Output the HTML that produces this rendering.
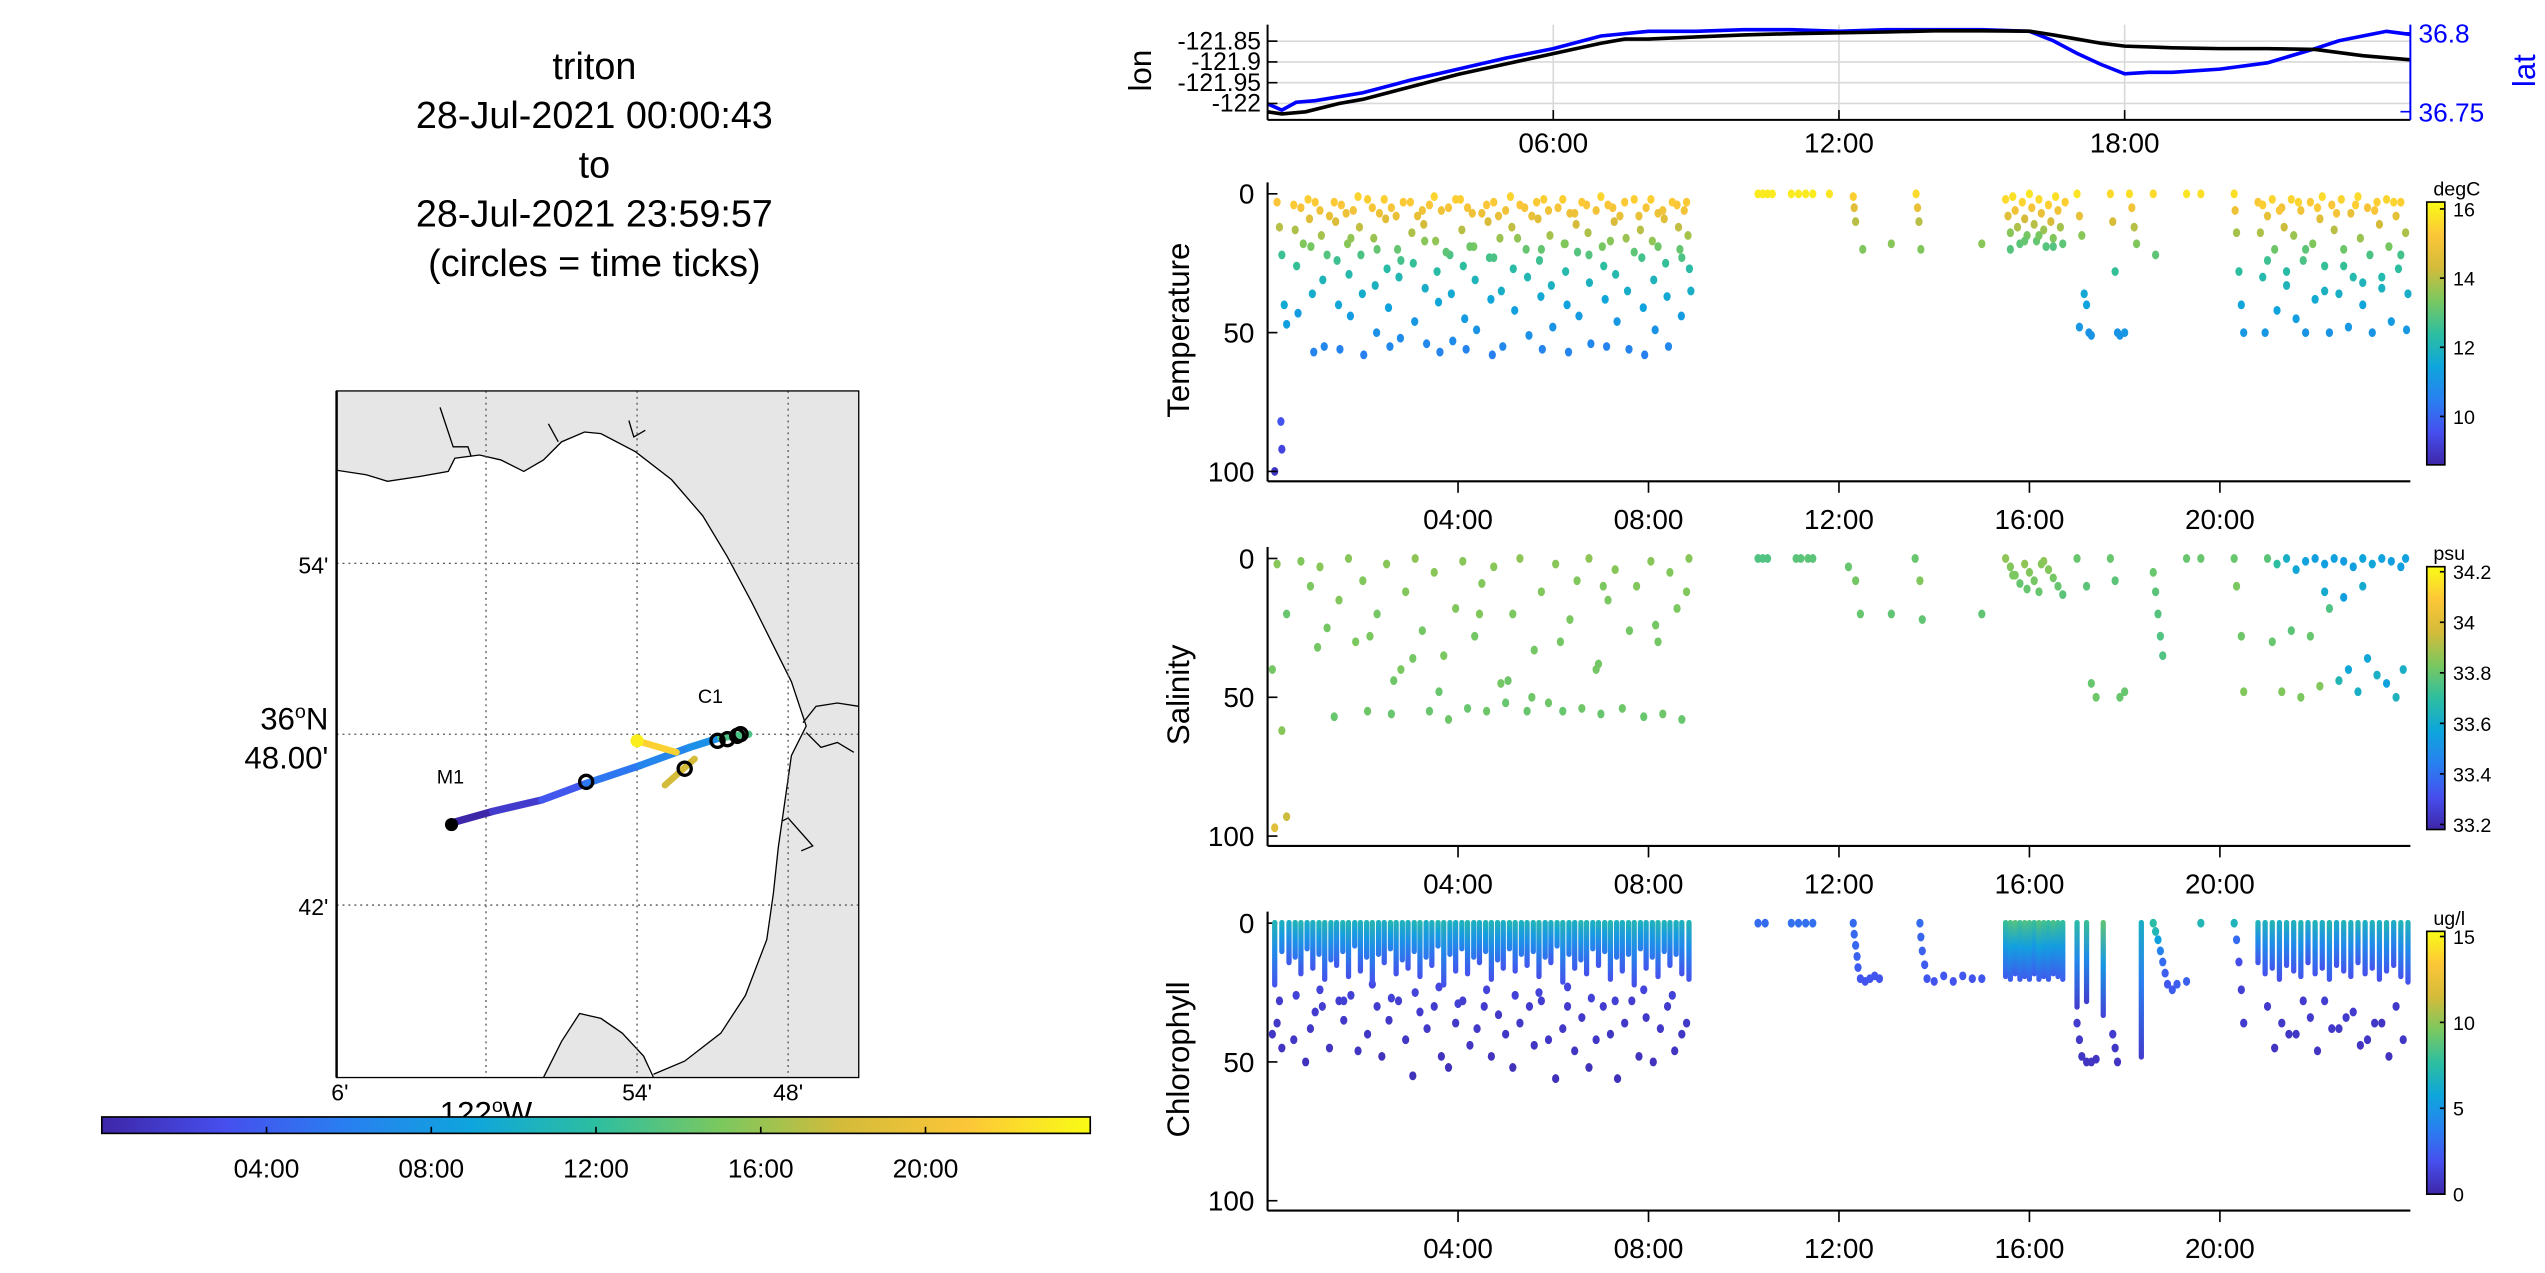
<!DOCTYPE html>
<html><head><meta charset="utf-8"><style>
html,body{margin:0;padding:0;background:#fff;}
svg{display:block;font-family:"Liberation Sans",Arial,sans-serif;}
</style></head><body>
<svg id="fig" width="2545" height="1273" viewBox="0 0 1550 775" preserveAspectRatio="none" xmlns="http://www.w3.org/2000/svg">
<rect width="1550" height="775" fill="#fff"/>
<g font-size="23" text-anchor="middle" fill="#000">
<text x="362" y="48">triton</text>
<text x="362" y="78">28-Jul-2021 00:00:43</text>
<text x="362" y="108">to</text>
<text x="362" y="138">28-Jul-2021 23:59:57</text>
<text x="362" y="168">(circles = time ticks)</text>
</g>
<g id="map"></g>
<g id="cbar"></g>
<g id="top"></g>
<g id="ptemp"></g>
<g id="psal"></g>
<g id="pchl"></g>
</svg>
<script>
// ---------- data ----------
const lonT=[0,0.3,0.8,1.5,2,3,4,5,6,7,7.5,8,9,10,11,12,13,14,15,16,16.5,17,17.5,18,19,20,21,22,23,24];
const lonV=[-122.02,-122.025,-122.02,-122.0,-121.99,-121.96,-121.93,-121.905,-121.88,-121.855,-121.845,-121.845,-121.84,-121.835,-121.832,-121.83,-121.828,-121.825,-121.825,-121.826,-121.835,-121.845,-121.855,-121.862,-121.866,-121.868,-121.868,-121.87,-121.885,-121.895];
const latT=[0,0.3,0.6,1,2,3,4,5,6,7,8,9,10,11,12,13,14,15,16,16.5,17,17.5,18,18.5,19,20,21,22,22.5,23,23.5,24];
const latV=[36.755,36.751,36.756,36.757,36.762,36.77,36.777,36.784,36.79,36.798,36.801,36.801,36.802,36.802,36.801,36.802,36.802,36.802,36.801,36.795,36.787,36.78,36.774,36.775,36.775,36.777,36.781,36.79,36.795,36.798,36.801,36.799];
const lonTicks=[-121.85,-121.9,-121.95,-122];
const lonTickLabels=["-121.85","-121.9","-121.95","-122"];
const latTicks=[36.8,36.75];
const latTickLabels=["36.8","36.75"];
const topTimeTicks=[6,12,18];
const topTimeLabels=["06:00","12:00","18:00"];
const timeTicks=[4,8,12,16,20];
const timeLabels=["04:00","08:00","12:00","16:00","20:00"];

const tempT=[0.2,0.25,0.3,0.35,0.4,0.15,0.3,0.28,
0.55,0.58,0.61,0.64, 0.85,0.88,0.91,0.94,0.97, 1.1,1.13,1.16,1.19, 1.4,1.43,1.46,1.49,1.52, 1.65,1.68,1.71,1.74,
1.9,1.93,1.96,1.99,2.02, 2.2,2.23,2.26,2.29, 2.45,2.48,2.51,2.54,2.57, 2.7,2.73,2.76,2.79, 3.0,3.03,3.06,3.09,
3.25,3.28,3.31,3.34, 3.5,3.53,3.56,3.59,3.62, 3.8,3.83,3.86,3.89, 4.05,4.08,4.11,4.14,4.17, 4.3,4.33,4.36,4.39,
4.6,4.63,4.66,4.69,4.72, 4.85,4.88,4.91,4.94, 5.1,5.13,5.16,5.19, 5.4,5.43,5.46,5.49, 5.65,5.68,5.71,5.74,5.77,
5.9,5.93,5.96,5.99, 6.2,6.23,6.26,6.29,6.32, 6.45,6.48,6.51,6.54, 6.7,6.73,6.76,6.79, 7.0,7.03,7.06,7.09,7.12,
7.25,7.28,7.31,7.34, 7.5,7.53,7.56,7.59, 7.8,7.83,7.86,7.89,7.92, 8.05,8.08,8.11,8.14, 8.3,8.33,8.36,8.39,8.42,
8.6,8.63,8.66,8.69, 8.8,8.83,8.86,8.89,
0.7,1.0,1.3,1.55,1.8,2.1,2.35,2.6,2.85,3.15,3.4,3.65,3.95,4.2,4.5,4.75,5.0,5.3,5.55,5.8,6.1,6.35,6.6,6.9,7.15,7.4,7.7,7.95,8.2,8.5,8.75,
0.75,1.25,1.75,2.3,2.8,3.3,3.75,4.25,4.75,5.25,5.75,6.25,6.75,7.2,7.7,8.2,8.7,
10.3,10.4,10.5,10.6,11.0,11.15,11.3,11.45,11.8,12.3,12.32,12.35,12.5,13.1,13.62,13.65,13.68,13.72,15.0,
15.5,15.55,15.6,15.65,15.7,15.75,15.8,15.85,15.9,15.95,16.0,16.05,16.1,16.15,16.2,16.25,16.3,16.35,16.4,16.45,16.5,16.55,16.6,16.65,16.7,16.75,15.6,15.9,16.2,16.5,
17.0,17.05,17.1,17.15,17.2,17.25,17.3,17.05,17.7,17.75,17.8,17.85,17.9,18.0,18.1,18.15,18.2,18.25,18.6,18.65,19.3,19.6,
20.3,20.32,20.35,20.4,20.45,20.5,
20.8,20.85,20.9,20.95,21.0,21.1,21.15,21.2,21.3,21.35,21.4,21.5,21.55,21.6,21.7,21.75,21.8,21.9,21.95,22.0,22.1,22.15,22.2,22.3,22.35,22.4,22.5,22.55,22.6,22.7,22.75,22.8,22.9,22.95,23.0,23.1,23.15,23.2,23.3,23.35,23.4,23.5,23.55,23.6,23.7,23.75,23.8,23.9,23.92,23.95,
21.0,21.4,21.8,22.2,22.6,23.0,23.4,23.8,20.9,21.25,21.65,22.05,22.45,22.85,23.25,23.65];
const tempZ=[3,12,22,40,47,100,92,82,
4,13,26,43, 2,9,19,36,57, 6,15,31,55, 3,10,24,40,56, 7,18,29,44,
1,12,22,36,58, 5,16,33,50, 2,9,27,41,55, 8,20,30,52, 3,14,25,46,
6,11,34,54, 1,17,28,39,57, 5,22,36,53, 2,13,26,45,56, 7,19,31,49,
4,10,23,38,58, 8,16,35,55, 1,12,27,42, 5,20,30,51, 3,9,24,37,56,
6,15,33,48, 2,18,28,40,57, 7,11,21,44, 4,14,32,54, 1,19,26,38,55,
5,10,29,46, 3,16,35,56, 8,13,23,41,58, 2,17,31,49, 6,9,25,37,55,
4,12,20,44, 3,15,27,35,
5,3,8,4,6,2,7,5,3,8,4,6,2,5,7,3,6,4,8,2,5,7,3,6,4,8,2,5,7,3,6,
18,22,16,20,24,17,21,19,23,16,20,18,22,17,21,19,23,
0,0,0,0,0,0,0,0,0,1,5,10,20,18,0,5,10,20,18,
2,8,14,1,6,12,18,3,9,15,0,5,11,17,2,7,13,19,4,10,16,1,6,12,18,3,20,17,15,19,
0,8,15,36,40,50,51,48,0,10,28,50,51,50,0,5,12,18,0,22,0,0,
0,6,14,28,40,50,
3,14,30,50,8,2,20,42,5,12,33,2,15,45,6,24,50,3,18,38,9,1,26,50,4,13,36,2,20,48,7,30,1,16,40,5,22,50,3,11,34,2,19,46,8,27,3,14,49,36,
24,28,20,35,26,32,30,22,4,6,3,5,7,4,6,3];
const tempV=[15.2,14.0,12.6,11.6,11.3,9.0,9.3,9.6,
15.3,13.9,12.5,11.2, 15.4,14.6,13.3,11.7,10.6, 15.0,13.8,12.0,10.7, 15.3,14.5,12.6,11.5,10.6, 14.9,13.5,12.2,11.2,
15.5,14.1,12.8,11.7,10.5, 15.1,13.7,11.9,10.9, 15.4,14.6,12.3,11.4,10.7, 14.8,13.1,12.1,10.8, 15.3,13.9,12.5,11.1,
15.0,14.3,11.8,10.7, 15.5,13.6,12.3,11.5,10.6, 15.1,12.8,11.6,10.8, 15.4,14.0,12.4,11.2,10.6, 14.9,13.3,12.0,11.0,
15.2,14.4,12.7,11.5,10.5, 14.8,13.7,11.8,10.7, 15.5,14.1,12.3,11.3, 15.1,13.1,12.1,10.9, 15.3,14.6,12.6,11.6,10.6,
15.0,13.8,11.9,11.0, 15.4,13.4,12.2,11.4,10.6, 14.9,14.3,12.9,11.2, 15.2,13.9,11.9,10.7, 15.5,13.3,12.4,11.5,10.6,
15.1,14.4,12.2,11.1, 15.3,13.7,11.8,10.6, 14.8,14.0,12.7,11.4,10.5, 15.4,13.6,12.0,11.0, 15.0,14.6,12.5,11.6,10.7,
15.2,14.1,13.1,11.2, 15.3,13.8,12.3,11.8,
15.1,15.3,14.8,15.2,15.0,15.4,14.9,15.1,15.3,14.8,15.2,15.0,15.4,15.1,14.9,15.3,15.0,15.2,14.8,15.4,15.1,14.9,15.3,15.0,15.2,14.8,15.4,15.1,14.9,15.3,15.0,
13.4,12.9,13.6,13.1,12.7,13.5,13.0,13.2,12.8,13.6,13.1,13.4,12.9,13.5,13.0,13.2,12.8,
15.9,15.9,15.9,15.9,15.9,15.9,15.9,15.9,15.8,15.4,14.6,14.0,13.4,13.5,15.6,14.8,14.0,13.4,13.5,
15.6,14.6,13.5,15.7,15.0,13.9,13.0,15.5,14.3,13.3,15.8,15.1,14.0,13.1,15.6,14.8,13.7,12.9,15.4,14.4,13.4,15.7,15.0,13.8,13.0,15.4,12.9,13.1,13.3,12.9,
15.8,14.8,13.5,11.6,11.4,11.0,11.0,11.1,15.6,14.4,12.5,11.0,11.0,11.1,15.7,15.0,14.0,13.4,15.6,13.0,15.8,15.7,
15.7,14.9,13.8,12.4,11.5,11.1,
15.3,13.9,12.2,11.1,14.7,15.5,13.2,11.4,15.0,14.2,12.0,15.5,13.7,11.3,15.0,12.8,11.0,15.3,13.4,11.6,14.6,15.6,12.5,11.0,15.2,14.0,11.8,15.5,13.2,11.1,14.8,12.2,15.6,13.7,11.5,15.1,12.8,11.0,15.4,14.3,11.9,15.5,13.3,11.2,14.7,12.4,15.4,13.9,11.1,11.8,
12.6,12.3,13.0,11.9,12.5,12.0,12.2,12.7,15.4,15.2,15.5,15.3,15.1,15.4,15.2,15.5];

const salT=[0.1,0.3,0.4,0.15,0.2,0.4,0.7,0.9,1.1,1.25,1.4,1.5,1.7,1.85,2.0,2.1,2.3,2.5,2.6,2.8,2.9,3.1,3.25,3.4,3.5,3.7,3.8,3.95,4.1,4.2,4.35,4.5,4.6,4.75,4.9,5.0,5.15,5.3,5.45,5.6,5.75,5.9,6.05,6.2,6.35,6.5,6.6,6.75,6.9,7.0,7.15,7.3,7.45,7.6,7.75,7.9,8.05,8.2,8.3,8.45,8.6,8.7,8.8,8.85,
1.05,2.15,3.05,4.45,5.05,6.15,7.05,8.15,2.65,3.6,5.55,6.95,
10.3,10.4,10.5,11.1,11.2,11.35,11.45,12.2,12.35,12.45,13.1,13.6,13.7,13.75,15.0,
15.5,15.6,15.7,15.8,15.9,16.0,16.1,16.2,16.3,16.4,16.5,16.6,16.7,15.65,15.95,16.25,
17.0,17.2,17.3,17.4,17.7,17.8,17.9,18.0,18.6,18.65,18.7,18.75,18.8,19.3,19.6,20.3,20.35,20.45,20.5,
21.0,21.2,21.4,21.6,21.8,22.0,22.2,22.4,22.6,22.8,23.0,23.2,23.4,23.6,23.8,23.9,
21.1,21.3,21.5,21.7,21.9,22.1,22.3,22.5,22.7,22.9,23.1,23.3,23.5,23.7,23.85,22.2,22.6,23.0];
const salZ=[40,62,93,97,2,20,1,10,3,25,57,15,0,30,8,55,20,2,56,40,12,0,26,55,5,35,58,18,1,54,28,9,55,3,45,52,20,0,55,33,12,52,2,55,22,8,54,0,40,56,15,4,54,26,10,57,1,30,56,5,18,58,12,0,
32,28,36,20,44,30,10,24,44,48,50,38,
0,0,0,0,0,0,0,3,8,20,20,0,8,22,20,
0,3,6,9,2,5,8,12,1,4,7,10,13,6,11,2,
0,10,45,50,0,8,50,48,5,12,20,28,35,0,0,0,10,28,48,
0,2,0,4,1,0,2,0,1,3,0,2,0,1,3,0,
30,48,26,50,28,46,18,44,40,48,36,42,45,50,40,12,14,10];
const salV=[33.82,33.85,33.95,34.0,33.85,33.8,33.84,33.83,33.85,33.82,33.8,33.84,33.85,33.83,33.84,33.81,33.82,33.85,33.8,33.83,33.84,33.86,33.82,33.8,33.85,33.83,33.81,33.84,33.85,33.8,33.82,33.84,33.81,33.85,33.82,33.8,33.83,33.86,33.8,33.82,33.84,33.81,33.85,33.8,33.83,33.84,33.81,33.86,33.82,33.8,33.83,33.85,33.81,33.82,33.84,33.8,33.85,33.82,33.81,33.84,33.83,33.8,33.84,33.85,
33.82,33.83,33.82,33.84,33.81,33.82,33.83,33.82,33.81,33.8,33.81,33.82,
33.76,33.76,33.76,33.78,33.78,33.78,33.78,33.8,33.82,33.8,33.79,33.8,33.84,33.79,33.79,
33.86,33.84,33.83,33.8,33.86,33.84,33.82,33.8,33.86,33.84,33.82,33.8,33.78,33.83,33.8,33.85,
33.8,33.78,33.8,33.81,33.8,33.78,33.8,33.8,33.8,33.78,33.77,33.76,33.76,33.8,33.8,33.8,33.83,33.81,33.84,
33.78,33.7,33.62,33.58,33.56,33.55,33.55,33.56,33.54,33.55,33.57,33.58,33.56,33.55,33.55,33.56,
33.8,33.84,33.78,33.83,33.8,33.84,33.76,33.66,33.58,33.62,33.58,33.62,33.56,33.64,33.62,33.6,33.55,33.6];

const chlColT=[0.15,0.45,0.7,0.95,1.2,1.45,1.7,1.95,2.2,2.45,2.7,2.95,3.2,3.45,3.7,3.95,4.2,4.45,4.7,4.95,5.2,5.45,5.7,5.95,6.2,6.45,6.7,6.95,7.2,7.45,7.7,7.95,8.2,8.45,8.7,8.85,
0.3,0.58,0.83,1.08,1.33,1.58,1.83,2.08,2.33,2.58,2.83,3.08,3.33,3.58,3.83,4.08,4.33,4.58,4.83,5.08,5.33,5.58,5.83,6.08,6.33,6.58,6.83,7.08,7.33,7.58,7.83,8.08,8.33,8.58,
15.5,15.6,15.7,15.8,15.9,16.0,16.1,16.2,16.3,16.4,16.5,16.6,16.7,17.0,17.2,17.55,18.35,
20.8,20.95,21.1,21.25,21.4,21.55,21.7,21.85,22.0,22.15,22.3,22.45,22.6,22.75,22.9,23.05,23.2,23.35,23.5,23.65,23.8,23.95];
const chlColBot=[22,14,18,16,20,15,19,17,21,14,18,16,19,15,22,17,18,14,20,16,17,15,19,14,21,16,18,15,20,17,22,16,19,15,18,20,
10,12,9,11,13,10,8,12,11,9,13,10,12,8,11,9,12,10,13,9,11,10,12,8,11,13,9,10,12,11,9,12,10,11,
19,20,18,20,19,20,18,20,19,20,18,19,20,30,28,33,48,
14,18,16,20,15,17,19,14,18,16,20,15,17,19,14,18,16,20,17,15,19,21];
const chlColSurf=[7.0,6.5,7.2,6.8,7.0,6.6,7.1,6.9,7.2,6.7,7.0,6.8,7.3,6.9,7.1,6.6,7.2,6.8,7.0,6.7,7.1,6.9,7.2,6.8,7.0,6.6,7.1,6.9,7.2,6.8,7.0,6.7,7.1,6.9,6.8,7.0,
6.8,7.0,6.6,7.1,6.9,7.2,6.7,7.0,6.8,7.3,6.9,7.1,6.6,7.2,6.8,7.0,6.7,7.1,6.9,7.2,6.8,7.0,6.6,7.1,6.9,7.2,6.8,7.0,6.7,7.1,6.9,6.8,7.0,6.9,
8.0,8.5,8.8,8.2,8.6,8.4,8.0,8.7,8.3,8.0,8.5,8.1,7.8,7.5,8.0,9.0,6.5,
7.0,6.8,7.2,6.6,7.0,6.9,7.1,6.7,7.0,6.8,7.2,6.6,7.0,6.9,7.1,6.7,7.0,6.8,7.2,6.6,7.0,6.9];
const chlColDeep=[2.0,2.2,1.8,2.0,1.9,2.1,1.8,2.0,1.9,2.2,1.8,2.0,1.9,2.1,1.8,2.0,1.9,2.2,1.8,2.0,1.9,2.1,1.8,2.0,1.9,2.2,1.8,2.0,1.9,2.1,1.8,2.0,1.9,2.2,1.8,2.0,
3.5,3.2,3.6,3.4,3.0,3.5,3.8,3.2,3.4,3.6,3.0,3.5,3.3,3.8,3.4,3.6,3.2,3.5,3.0,3.6,3.4,3.5,3.2,3.8,3.4,3.0,3.6,3.5,3.2,3.4,3.6,3.2,3.5,3.4,
2.4,2.4,2.4,2.4,2.4,2.4,2.4,2.4,2.4,2.4,2.4,2.4,2.4,1.0,1.0,1.2,1.0,
2.0,1.9,2.1,1.8,2.0,1.9,2.1,1.8,2.0,1.9,2.1,1.8,2.0,1.9,2.1,1.8,2.0,1.9,2.1,1.8,2.0,1.9];
const chlT=[0.1,0.2,0.25,0.3,0.55,0.8,0.9,1.0,1.15,1.3,1.5,1.6,1.75,1.9,2.1,2.3,2.4,2.55,2.75,2.9,3.05,3.2,3.35,3.5,3.65,3.8,3.95,4.1,4.25,4.4,4.55,4.7,4.85,5.0,5.15,5.3,5.5,5.6,5.75,5.9,6.05,6.2,6.3,6.45,6.6,6.75,6.9,7.05,7.2,7.35,7.5,7.65,7.8,7.95,8.1,8.25,8.4,8.55,8.7,8.8,
0.6,1.1,1.6,2.2,2.6,3.1,3.6,4.0,4.6,5.2,5.7,6.3,6.8,7.3,7.9,8.5,
10.3,10.45,11.0,11.15,11.3,11.45,
12.3,12.32,12.35,12.38,12.4,12.45,12.55,12.65,12.75,12.85,13.7,13.72,13.75,13.8,13.85,14.0,14.2,14.4,14.6,14.8,15.0,
17.0,17.05,17.1,17.2,17.3,17.4,17.75,17.8,17.85,18.6,18.65,18.7,18.75,18.8,18.85,18.9,19.0,19.1,19.3,19.6,20.3,20.35,20.4,20.45,20.5,
21.0,21.3,21.6,21.9,22.2,22.5,22.8,23.1,23.4,23.7,21.15,21.45,21.75,22.05,22.35,22.65,22.95,23.25,23.55,23.85];
const chlZ=[40,36,28,45,42,50,38,32,30,45,28,35,26,46,40,30,48,35,28,42,55,32,38,30,48,52,36,28,44,38,30,48,33,40,52,36,30,44,28,42,56,38,30,46,34,52,42,30,40,56,36,28,48,34,50,38,30,46,40,36,
26,24,28,22,27,25,23,29,24,26,25,23,27,28,24,26,
0,0,0,0,0,0,
0,4,8,12,16,20,21,20,19,20,0,5,10,15,20,21,19,21,19,20,20,
36,42,48,50,50,49,40,45,50,0,3,6,10,14,18,22,24,22,21,0,0,6,14,24,36,
30,36,40,34,28,38,32,42,36,30,45,40,28,46,38,34,44,36,48,42];
const chlV=[0.8,0.9,1.0,0.7,0.8,0.6,0.9,1.0,1.1,0.7,1.1,0.9,1.2,0.7,0.8,1.0,0.6,0.9,1.1,0.8,0.5,1.0,0.9,1.0,0.6,0.5,0.9,1.1,0.7,0.9,1.0,0.6,0.9,0.8,0.5,0.9,1.0,0.7,1.1,0.8,0.5,0.9,1.0,0.7,0.9,0.5,0.8,1.0,0.8,0.5,0.9,1.1,0.6,0.9,0.6,0.9,1.0,0.7,0.8,0.9,
1.3,1.4,1.2,1.5,1.3,1.4,1.5,1.2,1.4,1.3,1.4,1.5,1.3,1.2,1.4,1.3,
3.0,3.0,3.2,3.2,3.2,3.2,
3.0,2.9,2.8,2.6,2.4,2.2,2.1,2.2,2.2,2.1,3.0,2.8,2.6,2.4,2.2,2.1,2.2,2.1,2.2,2.1,2.2,
1.0,0.9,0.8,0.7,0.7,0.7,1.0,0.8,0.7,7.5,7.0,5.5,4.0,3.0,2.5,2.2,2.4,2.5,2.6,7.0,6.8,3.0,1.8,1.2,1.0,
1.0,0.9,0.8,1.0,1.1,0.9,1.0,0.8,0.7,0.9,0.7,0.8,1.0,0.7,0.9,1.0,0.7,0.9,0.6,0.8];

const mapCircleX=[357,417,437,443,449,451];
const mapCircleY=[476,468,451,450,448,447];

// ---------- helpers ----------
const NS="http://www.w3.org/2000/svg";
function mk(tag,attrs,parent){const e=document.createElementNS(NS,tag);for(const k in attrs)e.setAttribute(k,attrs[k]);parent.appendChild(e);return e;}
const PAR=[[62,38,168],[70,79,238],[40,128,240],[14,165,220],[45,190,160],[122,200,95],[212,187,58],[252,198,56],[249,251,21]];
function parula(t){t=Math.max(0,Math.min(1,t));const p=t*8,i=Math.min(7,Math.floor(p)),f=p-i;const a=PAR[i],b=PAR[i+1];return`rgb(${Math.round(a[0]+(b[0]-a[0])*f)},${Math.round(a[1]+(b[1]-a[1])*f)},${Math.round(a[2]+(b[2]-a[2])*f)})`;}
const X0=772,X1=1468;
const xh=h=>X0+h*(X1-X0)/24;
const defs=mk('defs',{},document.getElementById('fig'));
function grad(id,vertical){const g=mk('linearGradient',{id:id,x1:0,y1:vertical?1:0,x2:vertical?0:1,y2:0},defs);for(let i=0;i<=16;i++){mk('stop',{offset:i/16,'stop-color':parula(i/16)},g);}return g;}
grad('gv',true);grad('gh',false);

// ---------- top lon/lat ----------
(function(){
const g=document.getElementById('top');
const yLon=v=>63-(v+122)*253;
const yLat=v=>20+(36.8-v)*960;
const T=15,B=73;
for(const v of lonTicks){const l=mk('line',{x1:X0,x2:X1,y1:yLon(v),y2:yLon(v),stroke:'#d9d9d9','stroke-width':1},g);}
for(const h of topTimeTicks){const l=mk('line',{x1:xh(h),x2:xh(h),y1:T,y2:B,stroke:'#d9d9d9','stroke-width':1},g);}
const lat=mk('polyline',{points:latT.map((t,i)=>xh(t)+','+yLat(latV[i])).join(' '),fill:'none',stroke:'#0000ff','stroke-width':2.2},g);

const lon=mk('polyline',{points:lonT.map((t,i)=>xh(t)+','+yLon(lonV[i])).join(' '),fill:'none',stroke:'#000','stroke-width':2.2},g);

mk('line',{x1:X0,x2:X0,y1:T,y2:B,stroke:'#000','stroke-width':1.2},g);
mk('line',{x1:X0,x2:X1,y1:B,y2:B,stroke:'#000','stroke-width':1.2},g);
mk('line',{x1:X1,x2:X1,y1:T,y2:B,stroke:'#0000ff','stroke-width':1.2},g);
lonTicks.forEach((v,i)=>{mk('line',{x1:X0,x2:X0+6,y1:yLon(v),y2:yLon(v),stroke:'#000'},g);const t=mk('text',{x:X0-4,y:yLon(v)+5,'font-size':15,'text-anchor':'end'},g);t.textContent=lonTickLabels[i];});
latTicks.forEach((v,i)=>{mk('line',{x1:X1-6,x2:X1,y1:yLat(v),y2:yLat(v),stroke:'#0000ff'},g);const t=mk('text',{x:X1+5,y:yLat(v)+6,'font-size':16,fill:'#0000ff'},g);t.textContent=latTickLabels[i];});
topTimeTicks.forEach((h,i)=>{mk('line',{x1:xh(h),x2:xh(h),y1:B,y2:B-6,stroke:'#000'},g);const t=mk('text',{x:xh(h),y:93,'font-size':17,'text-anchor':'middle'},g);t.textContent=topTimeLabels[i];});
const a=mk('text',{x:0,y:0,'font-size':19,'text-anchor':'middle',transform:'translate(701,43) rotate(-90)'},g);a.textContent='lon';
const b=mk('text',{x:0,y:0,'font-size':19,'text-anchor':'middle',fill:'#0000ff',transform:'translate(1544,43) rotate(-90)'},g);b.textContent='lat';
})();

// ---------- depth panels ----------
function panel(id,top,title,unit,cmin,cmax,cbTicks,cbLabels,T,Z,V,name){
const g=document.getElementById(id);
const y0=top+2, yz=z=>y0+z*1.69, bottom=top+177;
const col=v=>parula((v-cmin)/(cmax-cmin));
for(let i=0;i<T.length;i++){const e=mk('ellipse',{cx:xh(T[i]),cy:yz(Z[i]),rx:2.2,ry:2.7,fill:col(V[i])},g);}
mk('line',{x1:X0,x2:X0,y1:top-5,y2:bottom,stroke:'#000','stroke-width':1.3},g);
mk('line',{x1:X0,x2:X1,y1:bottom,y2:bottom,stroke:'#000','stroke-width':1.3},g);
[0,50,100].forEach(z=>{mk('line',{x1:X0,x2:X0+6,y1:yz(z),y2:yz(z),stroke:'#000'},g);const t=mk('text',{x:X0-8,y:yz(z)+6,'font-size':17,'text-anchor':'end'},g);t.textContent=String(z);});
timeTicks.forEach((h,i)=>{mk('line',{x1:xh(h),x2:xh(h),y1:bottom,y2:bottom+7,stroke:'#000'},g);const t=mk('text',{x:xh(h),y:bottom+29,'font-size':17,'text-anchor':'middle'},g);t.textContent=timeLabels[i];});
const yt=mk('text',{x:0,y:0,'font-size':19,'text-anchor':'middle',transform:`translate(724,${top+85}) rotate(-90)`},g);yt.textContent=title;
const cbT=top+7,cbB=top+167;
const cb=mk('rect',{x:1478,y:cbT,width:11,height:cbB-cbT,fill:'url(#gv)',stroke:'#000','stroke-width':1},g);
const cy=v=>cbB-(v-cmin)/(cmax-cmin)*(cbB-cbT);
cbTicks.forEach((v,i)=>{mk('line',{x1:1486,x2:1489,y1:cy(v),y2:cy(v),stroke:'#000'},g);const t=mk('text',{x:1494,y:cy(v)+4.5,'font-size':12},g);t.textContent=cbLabels[i];});
const u=mk('text',{x:1482,y:top+3,'font-size':12},g);u.textContent=unit;
return {g,yz,col};
}
panel('ptemp',116,'Temperature','degC',8.6,16.2,[10,12,14,16],['10','12','14','16'],tempT,tempZ,tempV,'temperature');
panel('psal',338,'Salinity','psu',33.18,34.22,[33.2,33.4,33.6,33.8,34,34.2],['33.2','33.4','33.6','33.8','34','34.2'],salT,salZ,salV,'salinity');
(function(){
const p=panel('pchl',560,'Chlorophyll','ug/l',0,15.3,[0,5,10,15],['0','5','10','15'],chlT,chlZ,chlV,'chlorophyll');
for(let i=0;i<chlColT.length;i++){
const gid='cg'+i;const lg=mk('linearGradient',{id:gid,x1:0,y1:0,x2:0,y2:1},defs);
mk('stop',{offset:0,'stop-color':p.col(chlColSurf[i])},lg);mk('stop',{offset:0.45,'stop-color':p.col((chlColSurf[i]+chlColDeep[i])/2)},lg);mk('stop',{offset:1,'stop-color':p.col(chlColDeep[i])},lg);
const r=mk('rect',{x:xh(chlColT[i])-1.6,y:p.yz(0)-2,width:3.2,height:p.yz(chlColBot[i])-p.yz(0)+4,rx:1.6,fill:`url(#${gid})`},p.g);

}
})();

// ---------- map ----------
(function(){
const g=document.getElementById('map');
const L=205,R=523,T=238,B=656;
const cp=mk('clipPath',{id:'mclip'},defs);mk('rect',{x:L,y:T,width:R-L,height:B-T},cp);
const c=mk('g',{'clip-path':'url(#mclip)'},g);
mk('rect',{x:L,y:T,width:R-L,height:B-T,fill:'#fff'},c);
const coast="203,286 223,289 236,293 256,290 273,287 277,279 292,277 305,280 319,287 331,280 342,269 356,263 366,264 387,275 409,292 428,314 443,339 458,367 471,393 482,415 491,442 482,460 478,488 474,516 471,544 467,572 454,606 439,629 417,646 398,654";
const landPts="203,238 530,238 530,660 398,660 "+coast.split(' ').reverse().join(' ');
const land=mk('polygon',{points:landPts,fill:'#e6e6e6'},c);

const s=mk('polygon',{points:"331,660 331,654 342,634 353,617 366,620 379,629 392,643 398,660",fill:'#e6e6e6'},c);
mk('polyline',{points:coast,fill:'none',stroke:'#000','stroke-width':0.8},c);
mk('polyline',{points:"331,656 342,634 353,617 366,620 379,629 392,643 398,656",fill:'none',stroke:'#000','stroke-width':0.8},c);
mk('polyline',{points:"268,248 276,272 285,272 287,278",fill:'none',stroke:'#000','stroke-width':0.8},c);
mk('polyline',{points:"334,258 340,269",fill:'none',stroke:'#000','stroke-width':0.8},c);
mk('polyline',{points:"383,256 386,266 393,262",fill:'none',stroke:'#000','stroke-width':0.8},c);
mk('polyline',{points:"489,440 497,430 510,428 523,430",fill:'none',stroke:'#000','stroke-width':0.8},c);
mk('polyline',{points:"491,446 500,455 510,452 520,458",fill:'none',stroke:'#000','stroke-width':0.8},c);
mk('polyline',{points:"476,500 480,498 495,515 488,518",fill:'none',stroke:'#000','stroke-width':0.8},c);
[296,388,480].forEach(x=>mk('line',{x1:x,x2:x,y1:T,y2:B,stroke:'#555','stroke-width':0.8,'stroke-dasharray':'1.2 2.4'},c));
[343,447,551].forEach(y=>mk('line',{x1:L,x2:R,y1:y,y2:y,stroke:'#555','stroke-width':0.8,'stroke-dasharray':'1.2 2.4'},c));
const tr=[[275,501,0],[300,494,1.5],[330,487,3.5],[357,477,5.5],[390,466,6.5],[420,455,7.3],[439,449,8]];
for(let i=0;i<tr.length-1;i++){const l=mk('line',{x1:tr[i][0],y1:tr[i][1],x2:tr[i+1][0],y2:tr[i+1][1],stroke:parula(tr[i][2]/24),'stroke-width':4.5,'stroke-linecap':'round'},c);}
mk('line',{x1:439,y1:449,x2:456,y2:447,stroke:parula(0.55),'stroke-width':4.5,'stroke-linecap':'round'},c);
mk('line',{x1:405,y1:478,x2:423,y2:462,stroke:parula(0.75),'stroke-width':4,'stroke-linecap':'round'},c);
mk('line',{x1:388,y1:451,x2:412,y2:458,stroke:parula(0.9),'stroke-width':4,'stroke-linecap':'round'},c);
mk('circle',{cx:388,cy:451,r:4,fill:parula(0.97)},c);
mk('circle',{cx:275,cy:502,r:4,fill:'#000'},c);
mapCircleX.forEach((x,i)=>{const e=mk('circle',{cx:x,cy:mapCircleY[i],r:4,fill:'none',stroke:'#000','stroke-width':2},c);});
const m1=mk('text',{x:266,y:477,'font-size':12},c);m1.textContent='M1';
const c1=mk('text',{x:425,y:428,'font-size':12},c);c1.textContent='C1';
mk('rect',{x:L,y:T,width:R-L,height:B-T,fill:'none',stroke:'#000','stroke-width':0.8},g);
mk('line',{x1:L,y1:T,x2:L,y2:B,stroke:'#000','stroke-width':1.5},g);
const lab=(x,y,s,anc,fs,name)=>{const t=mk('text',{x:x,y:y,'font-size':fs,'text-anchor':anc},g);t.textContent=s;return t;};
lab(200,349,"54'",'end',14,'lat-label');lab(200,557,"42'",'end',14,'lat-label');
const n=lab(200,444,'','end',19,'lat-label');n.innerHTML='36<tspan dy="-7" font-size="12">o</tspan><tspan dy="7">N</tspan>';
lab(200,468,"48.00'",'end',19,'lat-label');
lab(207,670,"6'",'middle',14,'lon-label');lab(388,670,"54'",'middle',14,'lon-label');lab(480,670,"48'",'middle',14,'lon-label');
const w=lab(296,684,'','middle',19,'lon-label');w.innerHTML='122<tspan dy="-7" font-size="12">o</tspan><tspan dy="7">W</tspan>';
})();

// ---------- time colorbar ----------
(function(){
const g=document.getElementById('cbar');
const L=62,R=664;
mk('rect',{x:L,y:680,width:R-L,height:10,fill:'url(#gh)',stroke:'#000','stroke-width':1},g);
timeTicks.forEach((h,i)=>{const x=L+h/24*(R-L);mk('line',{x1:x,x2:x,y1:686,y2:690,stroke:'#000'},g);const t=mk('text',{x:x,y:717,'font-size':16,'text-anchor':'middle'},g);t.textContent=timeLabels[i];});
})();
</script>
</body></html>
